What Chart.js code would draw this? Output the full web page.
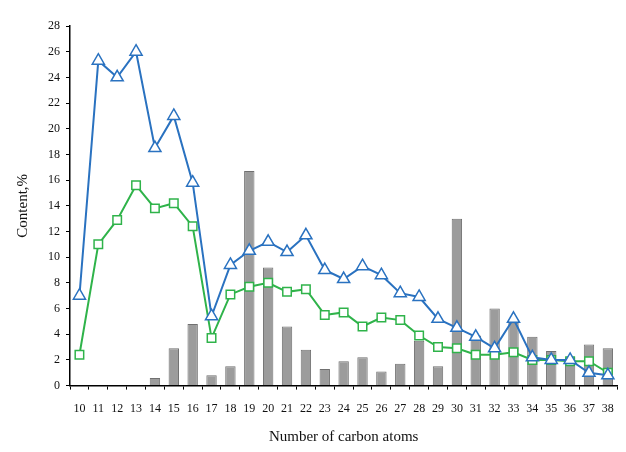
<!DOCTYPE html>
<html lang="en">
<head>
<meta charset="UTF-8">
<title>Content by carbon number</title>
<script src="https://cdn.jsdelivr.net/npm/chart.js"></script>
<style>
    body { margin: 0; background: #fff; }
    #wrap { width: 626px; height: 452px; }
</style>
</head>
<body>
<div id="wrap"><canvas id="myChart"></canvas></div>
<script>
    // carbon numbers on the x axis
    const carbonAtoms = [10, 11, 12, 13, 14, 15, 16, 17, 18, 19, 20, 21, 22, 23, 24,
        25, 26, 27, 28, 29, 30, 31, 32, 33, 34, 35, 36, 37, 38];

    // gray bars
    const barValues = [null, null, null, null, 0.6, 2.9, 4.8, 0.8, 1.5, 16.7, 9.2, 4.6, 2.8, 1.3, 1.9,
        2.2, 1.1, 1.7, 3.5, 1.5, 13.0, 3.9, 6.0, 4.9, 3.8, 2.7, 2.2, 3.2, 2.9];

    // blue line, triangles
    const blueValues = [7.0, 25.3, 24.0, 26.0, 18.5, 21.0, 15.8, 5.4, 9.4, 10.5, 11.2, 10.4, 11.7, 9.0, 8.3,
        9.3, 8.6, 7.2, 6.9, 5.2, 4.5, 3.8, 2.9, 5.2, 2.2, 2.0, 2.0, 1.0, 0.8];

    // green line, squares
    const greenValues = [2.4, 11.0, 12.9, 15.6, 13.8, 14.2, 12.4, 3.7, 7.1, 7.7, 8.0, 7.3, 7.5, 5.5, 5.7,
        4.6, 5.3, 5.1, 3.9, 3.0, 2.9, 2.4, 2.4, 2.6, 2.0, 2.0, 1.9, 1.9, 1.0];

    const yTicks = [0, 2, 4, 6, 8, 10, 12, 14, 16, 18, 20, 22, 24, 26, 28];

    const fonte = "'Liberation Serif', 'Times New Roman', serif";

    const config = {
        type: 'bar',
        data: {
            labels: carbonAtoms,
            datasets: [
                {
                    type: 'line',
                    data: blueValues,
                    borderColor: '#2a72c0',
                    borderWidth: 2,
                    pointStyle: 'triangle',
                    pointRadius: 7,
                    pointBorderWidth: 1.5,
                    pointBackgroundColor: '#ffffff',
                    pointBorderColor: '#2a72c0',
                    tension: 0,
                    order: 1
                },
                {
                    type: 'line',
                    data: greenValues,
                    borderColor: '#2fb34a',
                    borderWidth: 2,
                    pointStyle: 'rect',
                    pointRadius: 6,
                    pointBorderWidth: 1.5,
                    pointBackgroundColor: '#ffffff',
                    pointBorderColor: '#2fb34a',
                    tension: 0,
                    order: 2
                },
                {
                    data: barValues,
                    backgroundColor: '#9c9c9c',
                    borderColor: '#707070',
                    borderWidth: 1,
                    barPercentage: 0.55,
                    categoryPercentage: 1,
                    order: 3
                }
            ]
        },
        options: {
            responsive: true,
            maintainAspectRatio: false,
            animation: false,
            layout: { padding: { top: 26, right: 2, left: 10, bottom: 0 } },
            plugins: {
                legend: { display: false },
                tooltip: { enabled: false }
            },
            scales: {
                x: {
                    offset: true,
                    grid: {
                        offset: true,
                        drawOnChartArea: false,
                        drawTicks: true,
                        tickLength: 4,
                        color: '#000'
                    },
                    border: { color: '#000', width: 1.5 },
                    ticks: {
                        color: '#111',
                        font: { family: fonte, size: 12 },
                        maxRotation: 0,
                        autoSkip: false,
                        padding: 12
                    },
                    title: {
                        display: true,
                        text: 'Number of carbon atoms',
                        color: '#111',
                        font: { family: fonte, size: 15 },
                        padding: { top: 0, bottom: 6 }
                    }
                },
                y: {
                    min: 0,
                    max: 28,
                    afterBuildTicks: function (scale) {
                        scale.ticks = yTicks.map(v => ({ value: v }));
                    },
                    grid: {
                        drawOnChartArea: false,
                        drawTicks: true,
                        tickLength: 4,
                        color: '#000'
                    },
                    border: { color: '#000', width: 1.5 },
                    ticks: {
                        color: '#111',
                        font: { family: fonte, size: 12 },
                        padding: 6
                    },
                    title: {
                        display: true,
                        text: 'Content,%',
                        color: '#111',
                        font: { family: fonte, size: 15 },
                        padding: { bottom: 10 }
                    }
                }
            }
        }
    };

    new Chart(document.getElementById('myChart'), config);
</script>
</body>
</html>
